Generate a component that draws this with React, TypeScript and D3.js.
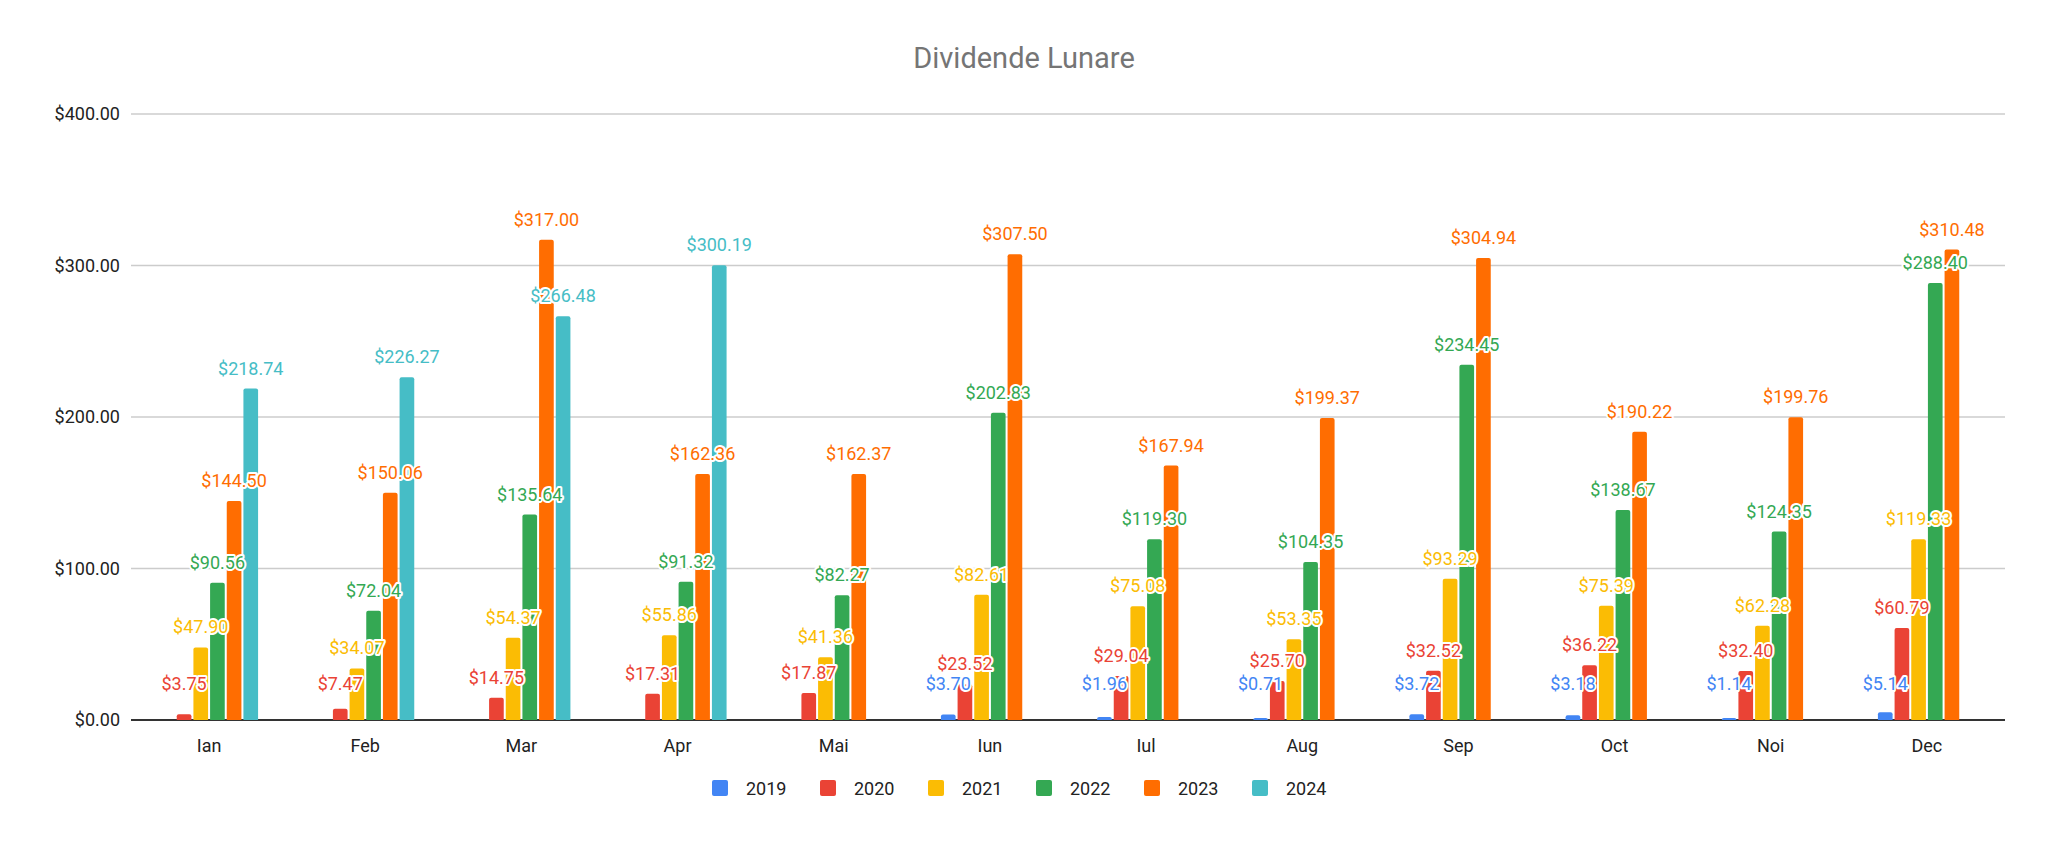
import React, { useRef, useEffect } from 'react';
import * as d3 from 'd3';

const months = ['Ian', 'Feb', 'Mar', 'Apr', 'Mai', 'Iun', 'Iul', 'Aug', 'Sep', 'Oct', 'Noi', 'Dec'];
const years = ['2019', '2020', '2021', '2022', '2023', '2024'];
const colors = ['#4285F4', '#EA4335', '#FBBC04', '#34A853', '#FF6D01', '#46BDC6'];

const v2019 = [null, null, null, null, null, 3.7, 1.96, 0.71, 3.72, 3.18, 1.14, 5.14];
const v2020 = [3.75, 7.47, 14.75, 17.31, 17.87, 23.52, 29.04, 25.7, 32.52, 36.22, 32.4, 60.79];
const v2021 = [47.9, 34.07, 54.37, 55.86, 41.36, 82.61, 75.08, 53.35, 93.29, 75.39, 62.28, 119.33];
const v2022 = [90.56, 72.04, 135.64, 91.32, 82.27, 202.83, 119.3, 104.35, 234.45, 138.67, 124.35, 288.4];
const v2023 = [144.5, 150.06, 317.0, 162.36, 162.37, 307.5, 167.94, 199.37, 304.94, 190.22, 199.76, 310.48];
const v2024 = [218.74, 226.27, 266.48, 300.19, null, null, null, null, null, null, null, null];
const series = [v2019, v2020, v2021, v2022, v2023, v2024];
const yTicks = [0, 100, 200, 300, 400];

const W = 2048;
const H = 841;
const FONT = 'Roboto, Arial, sans-serif';

export default function App() {
  const ref = useRef<SVGSVGElement>(null);

  useEffect(() => {
    const svg = d3.select(ref.current);
    svg.selectAll('*').remove();

    const left = 131, right = 2005, top = 114, bottom = 720;
    const x = d3.scaleBand().domain(months).range([left, right]).paddingInner(0).paddingOuter(0);
    const inner = d3.scaleBand().domain(years).range([-51, 51]).padding(0.12);
    const y = d3.scaleLinear().domain([0, 400]).range([bottom, top]);

    svg.append('rect').attr('width', W).attr('height', H).attr('fill', '#fff');

    svg.append('text')
      .attr('x', 1024).attr('y', 68).attr('text-anchor', 'middle')
      .attr('font-family', FONT).attr('font-size', 29).attr('fill', '#757575')
      .text('Dividende Lunare');

    const grid = svg.append('g');
    yTicks.forEach(t => {
      grid.append('line')
        .attr('x1', left).attr('x2', right).attr('y1', y(t)).attr('y2', y(t))
        .attr('stroke', t === 0 ? '#333' : '#ccc').attr('stroke-width', t === 0 ? 2 : 1.3);
      grid.append('text')
        .attr('x', 120).attr('y', y(t) + 6).attr('text-anchor', 'end')
        .attr('font-family', FONT).attr('font-size', 18).attr('fill', '#222')
        .text(d3.format('$,.2f')(t));
    });

    months.forEach(m => {
      svg.append('text')
        .attr('x', x(m)! + x.bandwidth() / 2).attr('y', bottom + 32).attr('text-anchor', 'middle')
        .attr('font-family', FONT).attr('font-size', 18).attr('fill', '#222')
        .text(m);
    });

    const bars = svg.append('g');
    const labels = svg.append('g');
    series.forEach((vals, si) => {
      vals.forEach((v, mi) => {
        if (v == null) return;
        const cx = x(months[mi])! + x.bandwidth() / 2;
        const bx = cx + inner(years[si])!;
        const bw = inner.bandwidth();
        const h = Math.max(bottom - y(v), 2);
        bars.append('path')
          .attr('d', `M${bx},${bottom}V${bottom - h + 2}q0,-2 2,-2h${bw - 4}q2,0 2,2V${bottom}Z`)
          .attr('fill', colors[si]);
        const ly = Math.min(y(v) - 14, bottom - 30);
        labels.append('text')
          .attr('x', bx + bw / 2).attr('y', ly).attr('text-anchor', 'middle')
          .attr('font-family', FONT).attr('font-size', 18)
          .attr('fill', colors[si]).attr('stroke', '#fff').attr('stroke-width', 4)
          .attr('paint-order', 'stroke').attr('stroke-linejoin', 'round')
          .text(d3.format('$,.2f')(v));
      });
    });

    const lg = svg.append('g');
    years.forEach((yr, i) => {
      const lx = 712 + i * 108;
      lg.append('rect').attr('x', lx).attr('y', 780).attr('width', 16).attr('height', 16)
        .attr('rx', 2).attr('fill', colors[i]);
      lg.append('text').attr('x', lx + 34).attr('y', 795)
        .attr('font-family', FONT).attr('font-size', 18).attr('fill', '#222').text(yr);
    });
  }, []);

  return <svg ref={ref} width={W} height={H} style={{ display: 'block', margin: -8 }} />;
}
